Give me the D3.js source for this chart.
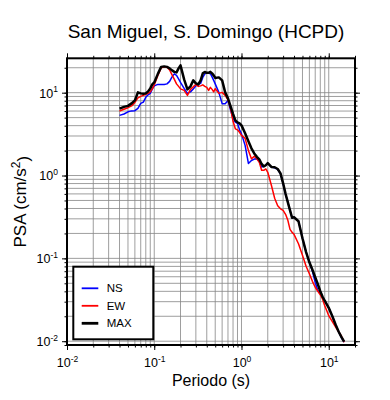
<!DOCTYPE html>
<meta charset="utf-8">
<html>
<head>
    <title>San Miguel, S. Domingo (HCPD)</title>
    <style>
        body { margin: 0; background: #fff; }
        text { font-family: "Liberation Sans", Arial, Helvetica, sans-serif; }
    </style>
</head>
<body>
    <div id="container"></div>
    <script src="https://d3js.org/d3.v7.min.js"></script>
    <script>
        // periods (s)
        const periods = [0.04, 0.045, 0.05, 0.055, 0.06, 0.065, 0.07, 0.075, 0.08, 0.085, 0.09, 0.095,
            0.1, 0.11, 0.12, 0.13, 0.14, 0.15, 0.16, 0.17, 0.18, 0.19,
            0.2, 0.22, 0.24, 0.26, 0.28, 0.3, 0.32, 0.34, 0.36, 0.38,
            0.4, 0.42, 0.44, 0.46, 0.48, 0.5, 0.55, 0.6, 0.65, 0.7, 0.75, 0.8, 0.85, 0.9, 0.95,
            1.0, 1.1, 1.2, 1.3, 1.4, 1.5, 1.6, 1.7, 1.8, 1.9,
            2.0, 2.2, 2.4, 2.6, 2.8, 3.0, 3.2, 3.4, 3.6, 3.8, 4.0, 4.5,
            5.0, 5.5, 6.0, 6.5, 7.0, 7.5, 8.0, 8.5, 9.0, 9.5,
            10, 11, 12, 13, 14, 15];

        // PSA (cm/s^2) per component
        const psaNS = [5.32, 5.53, 5.87, 6.03, 6.06, 6.47, 7.43, 7.70, 8.78, 9.41, 9.81, 11.11,
            12.08, 12.59, 12.59, 12.59, 12.77, 13.68, 15.51, 16.86, 16.18, 14.68,
            13.31, 11.27, 9.81, 10.23, 11.11, 12.08, 12.59, 12.95, 15.30, 16.86,
            17.23, 17.10, 16.95, 15.51, 14.07, 12.77, 10.08, 7.37, 7.37, 8.07, 6.12, 4.90, 4.42, 4.26, 3.56,
            3.18, 2.31, 1.40, 1.52, 1.58, 1.59, 1.48, 1.27, 1.29, 1.33,
            1.40, 1.27, 1.24, 1.19, 1.048, 0.794, 0.593, 0.475, 0.380, 0.309, 0.313, 0.281,
            0.175, 0.119, 0.0897, 0.0698, 0.0515, 0.0407, 0.0390, 0.0344, 0.0308, 0.0279,
            0.0253, 0.0200, 0.0158, 0.0130, 0.0110, 0.00973];

        const psaEW = [6.00, 6.32, 6.59, 6.93, 7.64, 8.66, 9.03, 9.28, 9.54, 9.81, 10.23, 11.11,
            12.42, 16.18, 19.91, 20.48, 20.36, 18.84, 16.40, 14.46, 12.77, 11.91,
            11.11, 10.66, 9.28, 10.96, 11.75, 12.59, 11.91, 12.08, 12.42, 11.91,
            11.59, 10.66, 11.59, 10.96, 10.23, 11.17, 9.81, 10.08, 9.28, 8.19, 6.47, 4.51, 3.66, 3.56, 3.32,
            3.05, 2.81, 2.01, 1.59, 1.71, 1.59, 1.44, 1.156, 1.156, 1.20,
            1.094, 0.762, 0.531, 0.431, 0.396, 0.380, 0.340, 0.288, 0.224, 0.206, 0.195, 0.150,
            0.109, 0.0803, 0.0652, 0.0528, 0.0448, 0.0401, 0.0364, 0.0321, 0.0268, 0.0233,
            0.0203, 0.0172, 0.0148, 0.0130, 0.0115, 0.00973];

        const psaMAX = [6.41, 6.74, 6.93, 7.43, 8.07, 10.08, 9.81, 9.72, 9.81, 10.37, 11.27, 12.59,
            13.31, 16.86, 20.48, 20.77, 20.48, 19.64, 18.58, 17.82, 17.58, 19.64,
            21.35, 14.46, 10.96, 11.91, 14.07, 12.95, 12.59, 14.07, 17.10, 17.82,
            17.34, 17.34, 17.82, 17.10, 16.18, 15.08, 15.30, 14.07, 10.08, 8.54, 6.84, 5.55, 4.63, 4.38, 4.26,
            4.03, 3.23, 2.59, 2.13, 1.85, 1.68, 1.57, 1.38, 1.29, 1.33,
            1.41, 1.27, 1.26, 1.20, 1.06, 0.805, 0.601, 0.475, 0.380, 0.309, 0.313, 0.281,
            0.175, 0.119, 0.0897, 0.0728, 0.0592, 0.0487, 0.0401, 0.0344, 0.0308, 0.0279,
            0.0253, 0.0200, 0.0158, 0.0130, 0.0112, 0.00986];

        const seriesNames = ["NS", "EW", "MAX"];
        const seriesColors = ["#0000ff", "#ff0000", "#000000"];
        const seriesWidths = [1.5, 1.5, 2.5];

        const xMajor = [0.01, 0.1, 1, 10];
        const yMajor = [0.01, 0.1, 1, 10];
        const xLabels = ["-2", "-1", "0", "1"];
        const yLabels = ["-2", "-1", "0", "1"];

        const width = 390, height = 400;
        const pLeft = 67, pRight = 355, pTop = 58.3, pBottom = 345;

        const x = d3.scaleLog().domain([0.01, 20]).range([pLeft, pRight]);
        const y = d3.scaleLog().domain([0.009, 26]).range([pBottom, pTop]);

        // minor values 1..9 per decade inside the domain
        function minorValues(scale) {
            const [a, b] = scale.domain();
            const out = [];
            for (let e = -3; e <= 2; e++) {
                for (let m = 1; m <= 9; m++) {
                    const v = m * Math.pow(10, e);
                    if (v >= a * 0.999 && v <= b * 1.001) out.push(v);
                }
            }
            return out;
        }
        const xMinor = minorValues(x);
        const yMinor = minorValues(y);

        const svg = d3.select("#container").append("svg")
            .attr("width", width)
            .attr("height", height);

        svg.append("defs").append("clipPath").attr("id", "plot")
            .append("rect")
            .attr("x", pLeft).attr("y", pTop)
            .attr("width", pRight - pLeft).attr("height", pBottom - pTop);

        // grid
        const grid = svg.append("g")
            .attr("stroke", "#858585")
            .attr("stroke-width", 0.8);
        grid.selectAll("line.gx").data(xMinor).join("line")
            .attr("class", "gx")
            .attr("x1", d => x(d)).attr("x2", d => x(d))
            .attr("y1", pTop).attr("y2", pBottom);
        grid.selectAll("line.gy").data(yMinor).join("line")
            .attr("class", "gy")
            .attr("y1", d => y(d)).attr("y2", d => y(d))
            .attr("x1", pLeft).attr("x2", pRight);

        // curves
        const series = [psaNS, psaEW, psaMAX].map((vals, i) => ({
            name: seriesNames[i],
            color: seriesColors[i],
            width: seriesWidths[i],
            points: periods.map((t, j) => [t, vals[j]])
        }));

        const line = d3.line()
            .x(d => x(d[0]))
            .y(d => y(d[1]));

        svg.append("g")
            .attr("clip-path", "url(#plot)")
            .selectAll("path")
            .data(series)
            .join("path")
            .attr("fill", "none")
            .attr("stroke", d => d.color)
            .attr("stroke-width", d => d.width)
            .attr("stroke-linejoin", "round")
            .attr("d", d => line(d.points));

        // axes: minor + major ticks on all four sides
        function addAxis(axisFn, scale, transform, minor, major) {
            svg.append("g")
                .attr("transform", transform)
                .call(axisFn(scale).tickValues(minor).tickSize(2.5).tickFormat(""))
                .call(g => g.select(".domain").remove())
                .call(g => g.selectAll("line").attr("stroke-width", 1));
            return svg.append("g")
                .attr("transform", transform)
                .call(axisFn(scale).tickValues(major).tickSize(5).tickPadding(4).tickFormat(""))
                .call(g => g.select(".domain").remove())
                .call(g => g.selectAll("line").attr("stroke-width", 1));
        }

        const gBottom = addAxis(d3.axisBottom, x, `translate(0,${pBottom})`, xMinor, xMajor);
        addAxis(d3.axisTop, x, `translate(0,${pTop})`, xMinor, xMajor);
        const gLeft = addAxis(d3.axisLeft, y, `translate(${pLeft},0)`, yMinor, yMajor);
        addAxis(d3.axisRight, y, `translate(${pRight},0)`, yMinor, yMajor);

        function powerLabel(sel, exps) {
            sel.each(function (d, i) {
                const t = d3.select(this).text(null)
                    .attr("font-size", 12.5)
                    .attr("fill", "#000");
                t.append("tspan").text("10");
                t.append("tspan").text(exps[i])
                    .attr("font-size", 8.5)
                    .attr("dy", "-0.6em");
            });
        }

        gBottom.selectAll(".tick text")
            .attr("y", 22)
            .attr("dy", null)
            .call(powerLabel, xLabels);

        gLeft.selectAll(".tick text")
            .attr("x", -9)
            .attr("dy", "0.35em")
            .call(powerLabel, yLabels);

        // frame
        svg.append("rect")
            .attr("x", pLeft).attr("y", pTop)
            .attr("width", pRight - pLeft).attr("height", pBottom - pTop)
            .attr("fill", "none")
            .attr("stroke", "#000")
            .attr("stroke-width", 2);

        // titles
        svg.append("text")
            .attr("x", 206).attr("y", 38)
            .attr("text-anchor", "middle")
            .attr("font-size", 19)
            .text("San Miguel, S. Domingo (HCPD)");

        svg.append("text")
            .attr("x", 211).attr("y", 386)
            .attr("text-anchor", "middle")
            .attr("font-size", 16)
            .text("Periodo (s)");

        const yTitle = svg.append("text")
            .attr("transform", `translate(26,${(pTop + pBottom) / 2}) rotate(-90)`)
            .attr("text-anchor", "middle")
            .attr("font-size", 17);
        yTitle.append("tspan").text("PSA (cm/s");
        yTitle.append("tspan").text("2").attr("font-size", 12).attr("dy", "-0.5em");
        yTitle.append("tspan").text(")").attr("dy", "0.5em");

        // legend
        const legend = svg.append("g");
        legend.append("rect")
            .attr("x", 73.3).attr("y", 266.7)
            .attr("width", 80).attr("height", 72.6)
            .attr("fill", "#fff")
            .attr("stroke", "#000")
            .attr("stroke-width", 2);

        const entry = legend.selectAll("g.entry")
            .data(series)
            .join("g")
            .attr("class", "entry")
            .attr("transform", (d, i) => `translate(0,${288.3 + i * 17.5})`);
        entry.append("line")
            .attr("x1", 81.7).attr("x2", 98.3)
            .attr("stroke", d => d.color)
            .attr("stroke-width", d => d.width + 0.3);
        entry.append("text")
            .attr("x", 106.7).attr("y", 4)
            .attr("font-size", 11.5)
            .text(d => d.name);
    </script>
</body>
</html>
